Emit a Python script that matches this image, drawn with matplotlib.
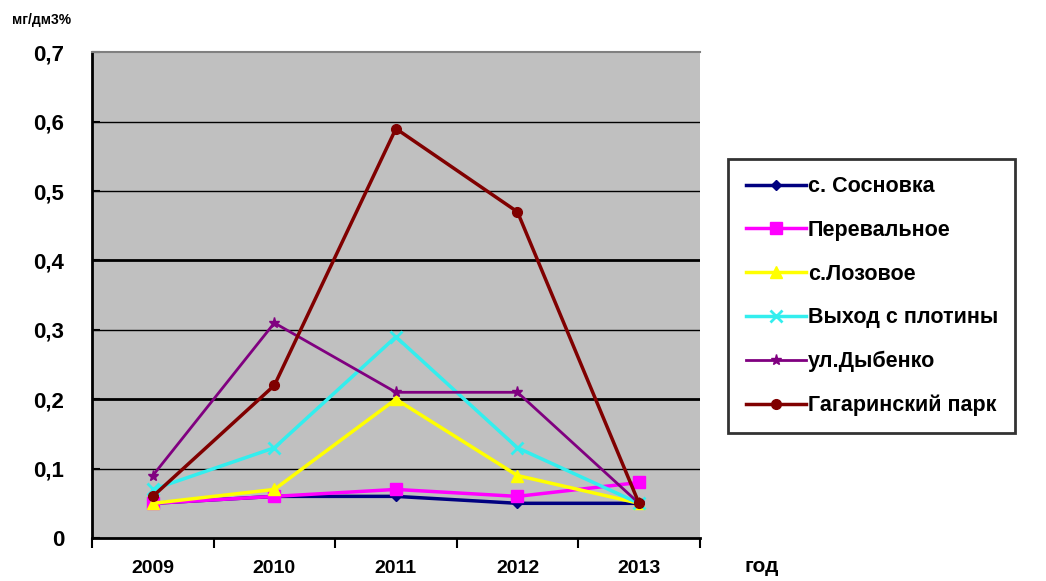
import matplotlib
matplotlib.use('Agg')
from matplotlib import pyplot as plt
from matplotlib.ticker import FuncFormatter

plt.rcParams['font.family'] = ['Liberation Sans', 'DejaVu Sans']

years = ['2009', '2010', '2011', '2012', '2013']
names = ['с. Сосновка', 'Перевальное', 'с.Лозовое', 'Выход с плотины', 'ул.Дыбенко', 'Гагаринский парк']
sosnovka = [0.05, 0.06, 0.06, 0.05, 0.05]
perevalnoe = [0.05, 0.06, 0.07, 0.06, 0.08]
lozovoe = [0.05, 0.07, 0.20, 0.09, 0.05]
plotina = [0.07, 0.13, 0.29, 0.13, 0.05]
dybenko = [0.09, 0.31, 0.21, 0.21, 0.05]
gagarin = [0.06, 0.22, 0.59, 0.47, 0.05]

series = [sosnovka, perevalnoe, lozovoe, plotina, dybenko, gagarin]
colors = ['#000080', '#ff00ff', '#ffff00', '#33eeee', '#800080', '#800000']
markers = ['D', 's', '^', 'x', '*', 'o']
msizes = [5, 8, 8, 8, 8, 7]
lws = [2.5, 2.5, 2.5, 2.5, 2.0, 2.5]

fig = plt.figure(figsize=(10.46, 5.81), dpi=100)
ax = fig.add_axes([0.088, 0.074, 0.581, 0.836])
ax.set_facecolor('#c0c0c0')

x = list(range(len(years)))
for vals, name, c, m, ms, lw in zip(series, names, colors, markers, msizes, lws):
    ax.plot(x, vals, color=c, marker=m, markersize=ms, lw=lw, label=name,
            markeredgewidth=2 if m == 'x' else 1, zorder=3)

ax.set_xlim(-0.5, 4.5)
ax.set_ylim(0, 0.7)
ax.set_yticks([0, 0.1, 0.2, 0.3, 0.4, 0.5, 0.6, 0.7])
ax.yaxis.set_major_formatter(FuncFormatter(lambda v, p: ('%g' % round(v, 2)).replace('.', ',')))
for v in [0.1, 0.2, 0.3, 0.4, 0.5, 0.6]:
    ax.axhline(v, color='black', lw=2.0 if v in (0.2, 0.4) else 1.0, zorder=1)

ax.set_xticks(x)
ax.set_xticklabels(years)
ax.set_xticks([-0.5, 0.5, 1.5, 2.5, 3.5, 4.5], minor=True)
ax.tick_params(axis='x', which='major', length=0, pad=16)
ax.tick_params(axis='x', which='minor', length=7, width=1.5, direction='out')
ax.tick_params(axis='y', length=6, width=1.5, direction='in', pad=20)
for lab in ax.get_xticklabels():
    lab.set_fontsize(14)
    lab.set_fontweight('bold')
for lab in ax.get_yticklabels():
    lab.set_fontsize(16)
    lab.set_fontweight('bold')

ax.spines['left'].set_linewidth(2)
ax.spines['bottom'].set_linewidth(2)
ax.spines['top'].set_color('#808080')
ax.spines['top'].set_linewidth(1.5)
ax.spines['right'].set_visible(False)

fig.text(0.011, 0.965, 'мг/дм3%', fontsize=10, fontweight='bold', ha='left', va='center')
fig.text(0.712, 0.025, 'год', fontsize=15, fontweight='bold', ha='left', va='center')

leg = fig.legend(loc='center left', bbox_to_anchor=(0.686, 0.49), frameon=True, fancybox=False,
                 shadow=False, edgecolor='black', fontsize=15.5, handlelength=2.8,
                 handletextpad=0.1, labelspacing=1.05, borderpad=0.8)
leg.get_frame().set_linewidth(2)
for t in leg.get_texts():
    t.set_fontweight('bold')

fig.savefig('out.png', dpi=100)
